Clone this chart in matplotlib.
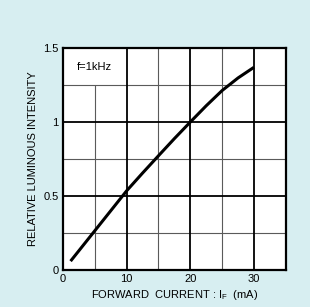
import numpy as np
import matplotlib.pyplot as plt

plt.rcParams['font.family'] = ['Liberation Sans', 'DejaVu Sans']
plt.rcParams['mathtext.fontset'] = 'custom'
plt.rcParams['mathtext.rm'] = 'Liberation Sans'

current = [1.2, 2.5, 5, 7.5, 10, 12.5, 15, 17.5, 20, 22.5, 25, 27.5, 30]
intensity = [0.06, 0.13, 0.265, 0.40, 0.535, 0.655, 0.772, 0.888, 1.0, 1.11, 1.213, 1.298, 1.37]

x_major = [10, 20, 30]
x_minor = [15, 25]
y_major = [0.5, 1.0]
y_minor = [0.25, 0.75, 1.25]

bg = '#d7eef1'
fig = plt.figure(figsize=(3.10, 3.07), dpi=100, facecolor=bg)
ax = fig.add_axes([0.203, 0.1205, 0.719, 0.723])
ax.set_xlim(0, 35)
ax.set_ylim(0, 1.5)

for x in x_minor:
    ax.axvline(x, color='#5a5a5a', lw=0.8, zorder=1)
ax.vlines(5, 0, 1.25, color='#5a5a5a', lw=0.8, zorder=1)
for y in y_minor:
    ax.axhline(y, color='#5a5a5a', lw=0.8, zorder=1)
for x in x_major:
    ax.axvline(x, color='black', lw=1.3, zorder=1)
for y in y_major:
    ax.axhline(y, color='black', lw=1.3, zorder=1)

ax.plot(current, intensity, color='black', lw=2.2, zorder=3,
        solid_capstyle='butt', solid_joinstyle='round')
ax.text(2.2, 1.37, 'f=1kHz', fontsize=8, va='center', ha='left')

ax.set_xticks([0, 10, 20, 30])
ax.set_yticks([0, 0.5, 1, 1.5])
ax.set_yticklabels(['0', '0.5', '1', '1.5'])
ax.tick_params(length=0, labelsize=8, pad=3)
for s in ax.spines.values():
    s.set_linewidth(1.6)

ax.set_xlabel(r'FORWARD  CURRENT : I$_\mathregular{F}$  (mA)', fontsize=8, labelpad=3)
ax.set_ylabel('RELATIVE LUMINOUS INTENSITY', fontsize=8, labelpad=4)

fig.savefig('out.png', dpi=100, facecolor=bg)
